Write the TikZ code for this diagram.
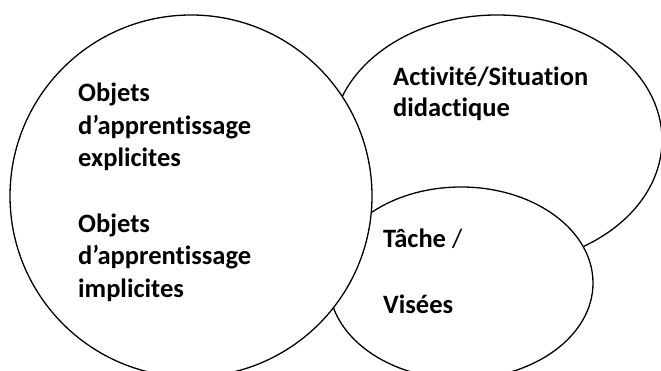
\documentclass[tikz,border=0pt]{standalone}
\usepackage{fontspec}
\setmainfont{Carlito}[Ligatures=NoCommon]
\begin{document}
\begin{tikzpicture}[x=1pt,y=1pt,
  zone/.style={draw=black,fill=white,line width=1.3pt},
  lbl/.style={anchor=base west,inner sep=0pt,font=\fontsize{26.5}{33}\selectfont\bfseries}]
\useasboundingbox (0,0) rectangle (661,371);
\clip (0,0) rectangle (661,371);
% activity / didactic situation
\path[zone] (497,231) ellipse [x radius=165, y radius=125];
% task / aims
\path[zone] (461,88) ellipse [x radius=132, y radius=96];
% learning objects
\path[zone] (191,175) circle [radius=181];
% labels of the learning objects
\node[lbl] (oe1) at (78,269) {Objets};
\node[lbl] (oe2) at (78,236) {d’apprentissage};
\node[lbl] (oe3) at (78,204) {explicites};
\node[lbl] (oi1) at (78,138) {Objets};
\node[lbl] (oi2) at (78,106) {d’apprentissage};
\node[lbl] (oi3) at (78,73) {implicites};
% labels of the situation
\node[lbl] (as1) at (393,285) {Activité/Situation};
\node[lbl] (as2) at (393,254) {didactique};
% labels of the task
\node[lbl] (tv1) at (383,123) {Tâche \textmd{/}};
\node[lbl] (tv2) at (383,57) {Visées};
\end{tikzpicture}
\end{document}
